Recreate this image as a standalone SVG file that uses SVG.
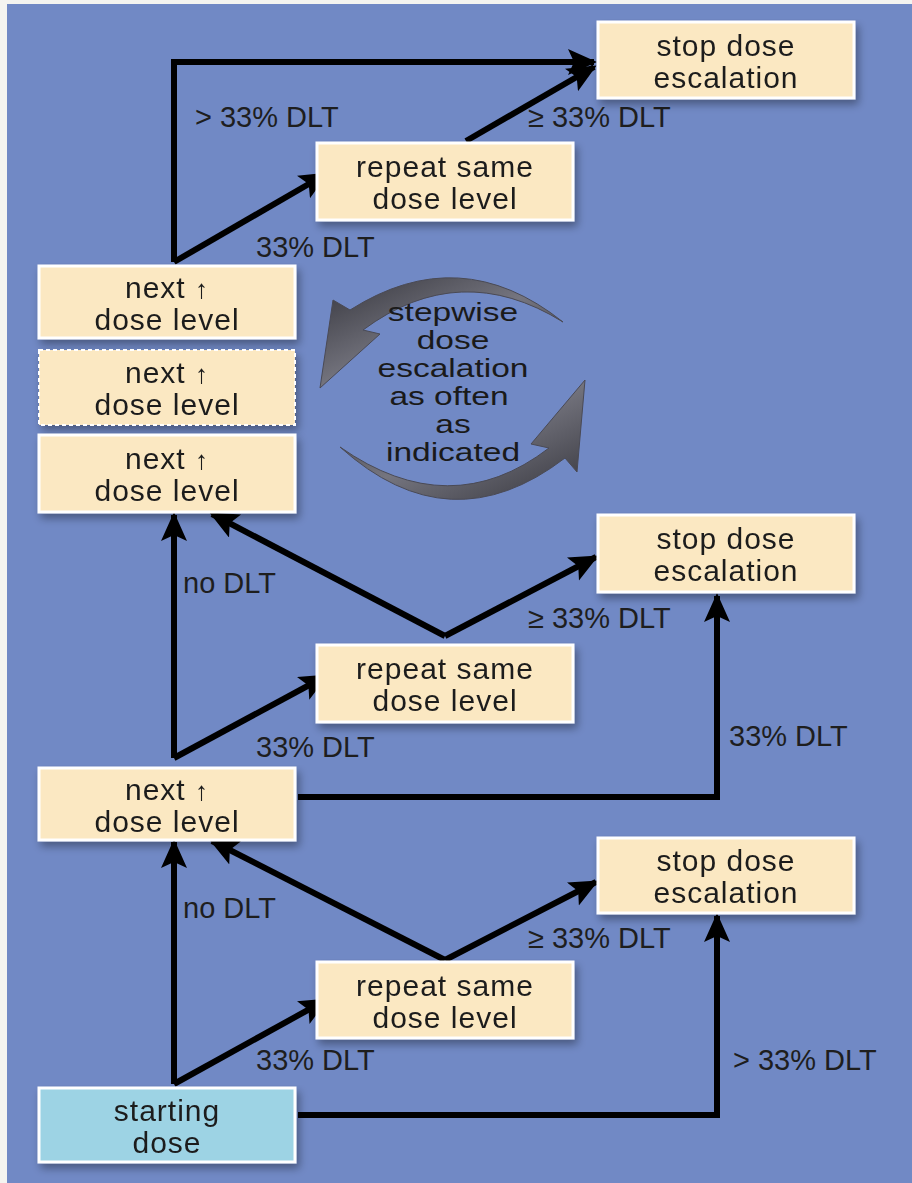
<svg xmlns="http://www.w3.org/2000/svg" width="912" height="1183" viewBox="0 0 912 1183">
<style>
.box{fill:#fbe8c2;stroke:#ffffff;stroke-width:3}
.start{fill:#9dd3e4;stroke:#ffffff;stroke-width:3}
.dash{fill:#fbe8c2;stroke:#ffffff;stroke-width:2;stroke-dasharray:4 3}
.bt{font-family:"Liberation Sans",Arial,sans-serif;font-size:30px;letter-spacing:1px;fill:#1e1e1e;text-anchor:middle}
.ar{font-size:26px}
.lb{font-family:"Liberation Sans",Arial,sans-serif;font-size:29px;fill:#1e1e1e}
.ct{font-family:"Liberation Sans",Arial,sans-serif;font-size:25px;fill:#1a1a1a;text-anchor:middle}
.cn{fill:none;stroke:#000000;stroke-width:6;stroke-linejoin:miter;marker-end:url(#ah)}
</style>
<defs>
<marker id="ah" markerUnits="userSpaceOnUse" markerWidth="32" markerHeight="28" refX="26" refY="13" orient="auto">
<path d="M0,0 L29,13 L0,26 L6,13 Z" fill="#000000"/>
</marker>
<filter id="sh" x="-10%" y="-10%" width="130%" height="140%">
<feGaussianBlur in="SourceAlpha" stdDeviation="4"/>
<feOffset dx="3" dy="5" result="b"/>
<feComponentTransfer><feFuncA type="linear" slope="0.35"/></feComponentTransfer>
<feMerge><feMergeNode/><feMergeNode in="SourceGraphic"/></feMerge>
</filter>
<linearGradient id="cg" x1="0" y1="0" x2="1" y2="1">
<stop offset="0" stop-color="#35353c"/>
<stop offset="0.5" stop-color="#75757f"/>
<stop offset="1" stop-color="#35353c"/>
</linearGradient>
</defs>
<rect x="0" y="0" width="912" height="1183" fill="#f4f4f0"/>
<rect x="7" y="4" width="905" height="1179" fill="#7189c5"/>

<g id="connectors">
<polyline class="cn" points="174,262 174,62 594,62"/>
<line class="cn" x1="174" y1="262" x2="326" y2="174"/>
<line class="cn" x1="466" y1="141" x2="594" y2="67"/>
<polyline class="cn" points="174,758 174,515"/>
<line class="cn" x1="174" y1="758" x2="326" y2="676"/>
<line class="cn" x1="445" y1="636" x2="212" y2="514"/>
<line class="cn" x1="445" y1="636" x2="596" y2="557"/>
<polyline class="cn" points="298,797 717,797 717,596"/>
<polyline class="cn" points="174,1084 174,842"/>
<line class="cn" x1="174" y1="1084" x2="326" y2="1000"/>
<line class="cn" x1="445" y1="960" x2="212" y2="841"/>
<line class="cn" x1="445" y1="960" x2="596" y2="882"/>
<polyline class="cn" points="298,1115 717,1115 717,916"/>
</g>

<g id="labels">
<text class="lb" x="195" y="127">&gt; 33% DLT</text>
<text class="lb" x="528" y="127">≥ 33% DLT</text>
<text class="lb" x="256" y="257">33% DLT</text>
<text class="lb" x="183" y="593">no DLT</text>
<text class="lb" x="528" y="628">≥ 33% DLT</text>
<text class="lb" x="256" y="757">33% DLT</text>
<text class="lb" x="729" y="746">33% DLT</text>
<text class="lb" x="183" y="918">no DLT</text>
<text class="lb" x="528" y="948">≥ 33% DLT</text>
<text class="lb" x="256" y="1070">33% DLT</text>
<text class="lb" x="733" y="1070">&gt; 33% DLT</text>
</g>

<g id="cycle">
<path d="M563,322 Q460,240 350,310 L333,300 L320,388 L380,334 L363,330 Q460,258 563,322 Z" fill="url(#cg)" stroke="#4a4a55" stroke-width="1"/>
<path d="M340,447 Q450,546 565,458 L577,472 L585,380 L531,444 L549,448 Q450,524 340,447 Z" fill="url(#cg)" stroke="#4a4a55" stroke-width="1"/>
<g transform="translate(453,0) scale(1.34,1)">
<text class="ct" x="0" y="321">stepwise</text>
<text class="ct" x="0" y="349">dose</text>
<text class="ct" x="0" y="377">escalation</text>
<text class="ct" x="-3" y="405">as often</text>
<text class="ct" x="0" y="433">as</text>
<text class="ct" x="0" y="461">indicated</text>
</g>
</g>

<g id="stop1" filter="url(#sh)">
<rect class="box" x="598" y="22" width="256" height="76"/>
<text class="bt" x="726" y="56">stop dose</text>
<text class="bt" x="726" y="88">escalation</text>
</g>
<g id="repeat1" filter="url(#sh)">
<rect class="box" x="317" y="143" width="256" height="77"/>
<text class="bt" x="445" y="177">repeat same</text>
<text class="bt" x="445" y="209">dose level</text>
</g>
<g id="next1" filter="url(#sh)">
<rect class="box" x="39" y="266" width="256" height="72"/>
<text class="bt" x="167" y="298">next <tspan class="ar">↑</tspan></text>
<text class="bt" x="167" y="330">dose level</text>
</g>
<g id="next2" filter="url(#sh)">
<rect class="dash" x="39" y="350" width="256" height="75"/>
<text class="bt" x="167" y="383">next <tspan class="ar">↑</tspan></text>
<text class="bt" x="167" y="415">dose level</text>
</g>
<g id="next3" filter="url(#sh)">
<rect class="box" x="39" y="435" width="256" height="77"/>
<text class="bt" x="167" y="469">next <tspan class="ar">↑</tspan></text>
<text class="bt" x="167" y="501">dose level</text>
</g>
<g id="stop2" filter="url(#sh)">
<rect class="box" x="598" y="515" width="256" height="77"/>
<text class="bt" x="726" y="549">stop dose</text>
<text class="bt" x="726" y="581">escalation</text>
</g>
<g id="repeat2" filter="url(#sh)">
<rect class="box" x="317" y="645" width="256" height="77"/>
<text class="bt" x="445" y="679">repeat same</text>
<text class="bt" x="445" y="711">dose level</text>
</g>
<g id="next4" filter="url(#sh)">
<rect class="box" x="39" y="768" width="256" height="72"/>
<text class="bt" x="167" y="800">next <tspan class="ar">↑</tspan></text>
<text class="bt" x="167" y="832">dose level</text>
</g>
<g id="stop3" filter="url(#sh)">
<rect class="box" x="598" y="838" width="256" height="75"/>
<text class="bt" x="726" y="871">stop dose</text>
<text class="bt" x="726" y="903">escalation</text>
</g>
<g id="repeat3" filter="url(#sh)">
<rect class="box" x="317" y="962" width="256" height="76"/>
<text class="bt" x="445" y="996">repeat same</text>
<text class="bt" x="445" y="1028">dose level</text>
</g>
<g id="start" filter="url(#sh)">
<rect class="start" x="39" y="1088" width="256" height="74"/>
<text class="bt" x="167" y="1121">starting</text>
<text class="bt" x="167" y="1153">dose</text>
</g>
</svg>
